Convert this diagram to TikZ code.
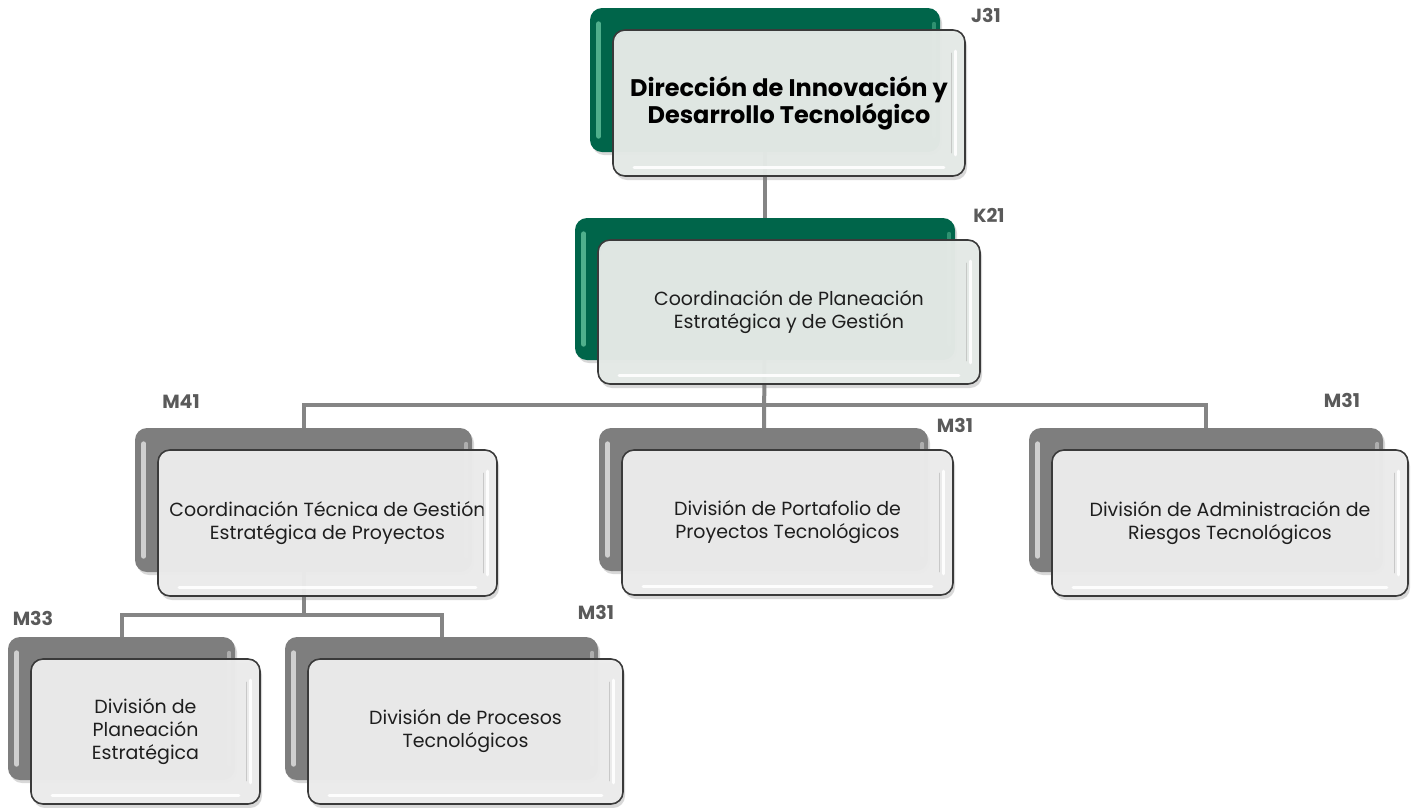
\documentclass[tikz,border=0pt]{standalone}
\usepackage{fontspec}
\setmainfont{Poppins}
\usetikzlibrary{shadows,calc}
\pgfdeclarelayer{bg}
\pgfdeclarelayer{canvas}
\pgfsetlayers{canvas,bg,main}
\definecolor{dgreen}{HTML}{00654A}
\definecolor{lgreen}{HTML}{4FAF8C}
\definecolor{dgray}{HTML}{7E7E7E}
\definecolor{lgray}{HTML}{CFCFCF}
\definecolor{conncol}{HTML}{858585}
\definecolor{frontgray}{HTML}{ECECEC}
\definecolor{frontgreen}{HTML}{E5EAE7}
\definecolor{labelcol}{HTML}{5A5A5A}
\definecolor{edgecol}{HTML}{3A3A3A}
\definecolor{textcol}{HTML}{1E1E1E}
\tikzset{
  backbox/.style={rounded corners=12pt, inner sep=0pt, draw=none,
    drop shadow={shadow xshift=2pt, shadow yshift=-3pt, opacity=0.3}},
  frontbox/.style={rounded corners=12pt, inner sep=0pt, draw=edgecol, line width=1.6pt,
    fill opacity=0.97, text opacity=1, align=center, text=textcol,
    font=\fontsize{19}{23}\selectfont,
    drop shadow={shadow xshift=2pt, shadow yshift=-4pt, opacity=0.3}},
  conn/.style={draw=conncol, line width=4pt},
  lvl/.style={font=\bfseries\fontsize{19}{22}\selectfont, text=labelcol, inner sep=0pt},
  hilite/.style={line width=4pt, line cap=round},
}
% #1 name, #2 cx, #3 cy, #4 width, #5 height, #6 back colour, #7 stripe colour, #8 front fill, #9 text
\newcommand\orgunit[9]{%
  \node[backbox, fill=#6, minimum width=#4pt, minimum height=#5pt] (#1b) at (#2,#3) {};
  \draw[hilite, #7, line width=5pt] ($(#1b.north west)+(9,16)$) -- ($(#1b.south west)+(9,-16)$);
  \draw[hilite, #7, opacity=0.6] ($(#1b.north east)+(-6,16)$) -- ($(#1b.south east)+(-6,-16)$);
  \node[frontbox, fill=#8, minimum width=#4pt+2pt, minimum height=#5pt+2pt] (#1f)
     at ($(#1b.center)+(24,23)$) {#9};
  \draw[hilite, white, line width=3pt, opacity=0.9] ($(#1f.north east)+(-10,22)$) -- ($(#1f.south east)+(-10,-22)$);
  \draw[hilite, white, line width=3pt, opacity=0.9] ($(#1f.south west)+(22,-9)$) -- ($(#1f.south east)+(-22,-9)$);
  \draw[hilite, gray!60, line width=1pt, opacity=0.6] ($(#1f.north east)+(-14,24)$) -- ($(#1f.south east)+(-14,-24)$);
}
\begin{document}
\begin{tikzpicture}[x=1pt,y=-1pt]
\useasboundingbox (0,0) rectangle (1415,807);
\begin{pgfonlayer}{canvas}
\fill[white] (0,0) rectangle (1415,807);
\end{pgfonlayer}

\orgunit{top}{765}{80}{350}{144}{dgreen}{lgreen}{frontgreen}{\bfseries\fontsize{24}{30}\selectfont\color{black}Dirección de Innovación y\\\bfseries\fontsize{24}{30}\selectfont\color{black}Desarrollo Tecnológico}
\orgunit{kdos}{765}{289}{380}{142}{dgreen}{lgreen}{frontgreen}{Coordinación de Planeación\\Estratégica y de Gestión}
\orgunit{mcuatro}{303.5}{500}{337}{144}{dgray}{lgray}{frontgray}{Coordinación Técnica de Gestión\\Estratégica de Proyectos}
\orgunit{mid}{763.5}{499.5}{329}{143}{dgray}{lgray}{frontgray}{División de Portafolio de\\Proyectos Tecnológicos}
\orgunit{right}{1206}{500}{354}{144}{dgray}{lgray}{frontgray}{División de Administración de\\Riesgos Tecnológicos}
\orgunit{ll}{121.5}{708.5}{227}{143}{dgray}{lgray}{frontgray}{División de\\Planeación\\Estratégica}
\orgunit{lr}{441.5}{708.5}{313}{143}{dgray}{lgray}{frontgray}{División de Procesos\\Tecnológicos}

\node[lvl] (ljtres) at (986,15) {J31};
\node[lvl] (lkdos) at (989,215) {K21};
\node[lvl] (lmcuatro) at (181,402) {M41};
\node[lvl] (lmid) at (955,425) {M31};
\node[lvl] (lright) at (1342,400) {M31};
\node[lvl] (lll) at (33,618) {M33};
\node[lvl] (llr) at (596,612) {M31};

\begin{pgfonlayer}{bg}
  \coordinate (busone) at ($(kdosb.south)+(0,45)$);
  \coordinate (bustwo) at ($(mcuatrob.south)+(0,43)$);
  \draw[conn] (topb.center) -- (kdosb.center);
  \draw[conn] (kdosb.center) -- (midb.center);
  \draw[conn] (mcuatrob.center) |- (busone) -| (rightb.center);
  \draw[conn] (mcuatrob.center) -- (bustwo);
  \draw[conn] (llb.center) |- (bustwo) -| (lrb.center);
\end{pgfonlayer}
\end{tikzpicture}
\end{document}
